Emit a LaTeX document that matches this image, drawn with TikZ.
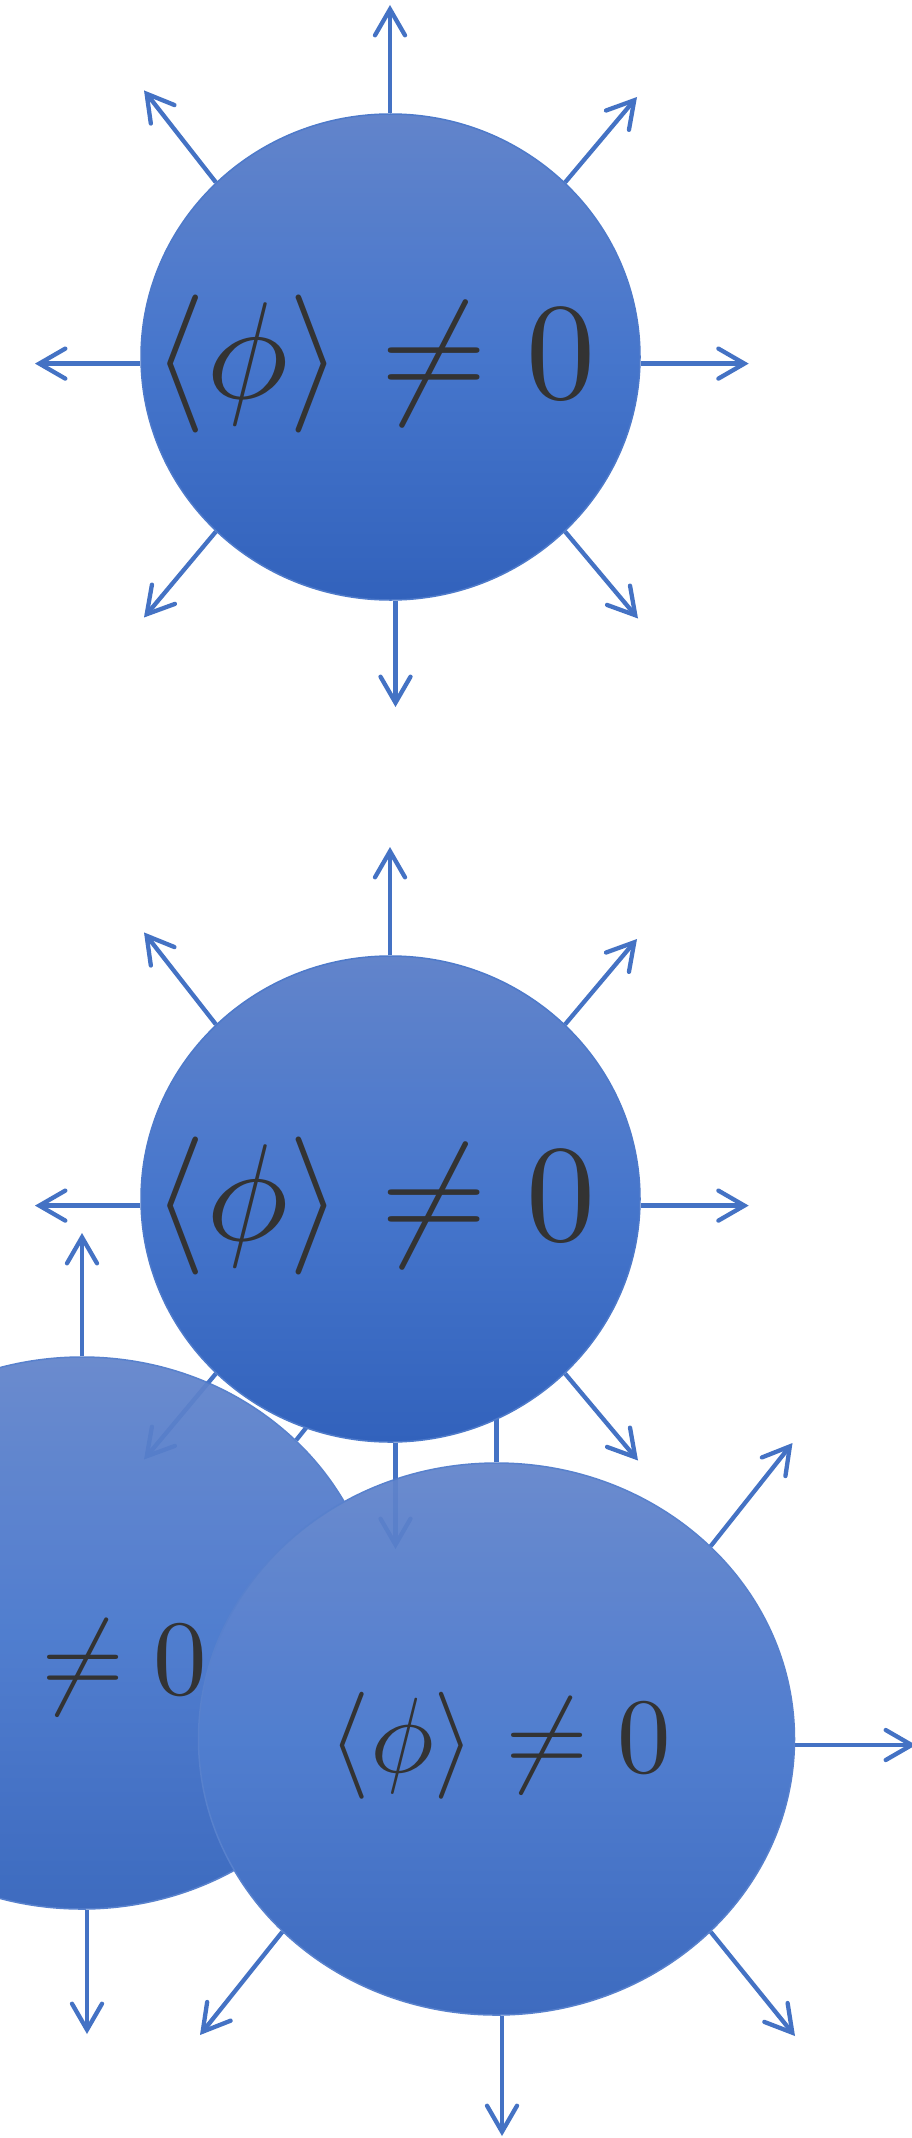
\documentclass[tikz,border=0pt]{standalone}
\usetikzlibrary{arrows.meta,shapes.geometric}
\definecolor{arrowblue}{RGB}{68,114,196}
\definecolor{gtop}{RGB}{98,132,203}
\definecolor{gmid}{RGB}{70,118,204}
\definecolor{gbot}{RGB}{50,98,188}
\definecolor{edgeblue}{RGB}{78,122,202}
\definecolor{txtgray}{RGB}{51,51,51}
\pgfdeclarelayer{bg}
\pgfdeclarelayer{mid}
\pgfsetlayers{bg,mid,main}
\begin{document}
\begin{tikzpicture}[x=1pt,y=-1pt,
  arr/.style={draw=arrowblue,line width=4.3pt,-{Straight Barb[length=26pt,width=30pt,line cap=round,line join=miter]}},
  blob/.style={ellipse,inner sep=0pt,draw=edgeblue,line width=1.5pt,top color=gtop,bottom color=gbot,middle color=gmid},
  small/.style={minimum width=499pt,minimum height=486pt},
  big/.style={minimum width=596pt,minimum height=552pt},
  lbl/.style={inner sep=0pt,text=txtgray}]
\useasboundingbox (0,0) rectangle (912,2138);
\begin{pgfonlayer}{bg}
  \fill[white] (0,0) rectangle (912,2138);
\end{pgfonlayer}

% ---- circle 1
\node[blob,small] (c1) at (390.5,357) {};
\node[lbl] (t1) at (374,364) {\scalebox{13.8}{$\langle\phi\rangle\neq0$}};
\coordinate (c1u) at (390,5);
\coordinate (c1d) at (395.5,707);
\coordinate (c1l) at (35,363.6);
\coordinate (c1r) at (748.7,363.6);
\coordinate (c1ul) at (144,90.4);
\coordinate (c1ur) at (637,97);
\coordinate (c1ll) at (144,617.5);
\coordinate (c1lr) at (638,618.5);
\draw[arr] (c1u |- c1.north) -- (c1u);
\draw[arr] (c1d |- c1.south) -- (c1d);
\draw[arr] (c1.west |- c1l) -- (c1l);
\draw[arr] (c1.east |- c1r) -- (c1r);
\draw[arr] (c1.135) -- (c1ul);
\draw[arr] (c1.45) -- (c1ur);
\draw[arr] (c1.225) -- (c1ll);
\draw[arr] (c1.-45) -- (c1lr);

% ---- circle 2
\begin{pgfonlayer}{mid}
\node[blob,small] (c2) at (390.5,1199) {};
\node[lbl] (t2) at (374,1206) {\scalebox{13.8}{$\langle\phi\rangle\neq0$}};
\coordinate (c2u) at (390,847);
\coordinate (c2d) at (395.5,1549);
\coordinate (c2l) at (35,1205.6);
\coordinate (c2r) at (748.7,1205.6);
\coordinate (c2ul) at (144,932.4);
\coordinate (c2ur) at (637,939);
\coordinate (c2ll) at (144,1459.5);
\coordinate (c2lr) at (638,1460.5);
\draw[arr] (c2u |- c2.north) -- (c2u);
\draw[arr] (c2d |- c2.south) -- (c2d);
\draw[arr] (c2.west |- c2l) -- (c2l);
\draw[arr] (c2.east |- c2r) -- (c2r);
\draw[arr] (c2.135) -- (c2ul);
\draw[arr] (c2.45) -- (c2ur);
\draw[arr] (c2.225) -- (c2ll);
\draw[arr] (c2.-45) -- (c2lr);
\end{pgfonlayer}

% ---- lower ellipses (slightly see-through as a group)
\begin{scope}[transparency group,opacity=0.94]
\node[blob,big] (e3) at (82,1633) {};
\node[blob,big] (e4) at (496.5,1739) {};
\end{scope}
\node[lbl] (t3) at (36,1667.5) {\scalebox{10.7}{$\langle\phi\rangle\neq0$}};
\node[lbl] (t4) at (500,1746) {\scalebox{10.7}{$\langle\phi\rangle\neq0$}};

\begin{pgfonlayer}{bg}
\coordinate (e3u) at (82,1233);
\coordinate (e3d) at (87,2034);
\coordinate (e3ur) at (377.7,1337.9);
\draw[arr] (e3u |- e3.north) -- (e3u);
\draw[arr] (e3d |- e3.south) -- (e3d);
\draw[arr] (e3.42.8) -- (e3ur);
\coordinate (e4u) at (496.5,1338);
\coordinate (e4ur) at (792.5,1443);
\coordinate (e4r) at (916,1745);
\coordinate (e4lr) at (795,2036);
\coordinate (e4d) at (502,2136);
\coordinate (e4ll) at (200,2035);
\draw[arr] (e4u |- e4.north) -- (e4u);
\draw[arr] (e4.42.8) -- (e4ur);
\draw[arr] (e4.east |- e4r) -- (e4r);
\draw[arr] (e4.-42.6) -- (e4lr);
\draw[arr] (e4d |- e4.south) -- (e4d);
\draw[arr] (e4.222.8) -- (e4ll);
\end{pgfonlayer}
\end{tikzpicture}
\end{document}
